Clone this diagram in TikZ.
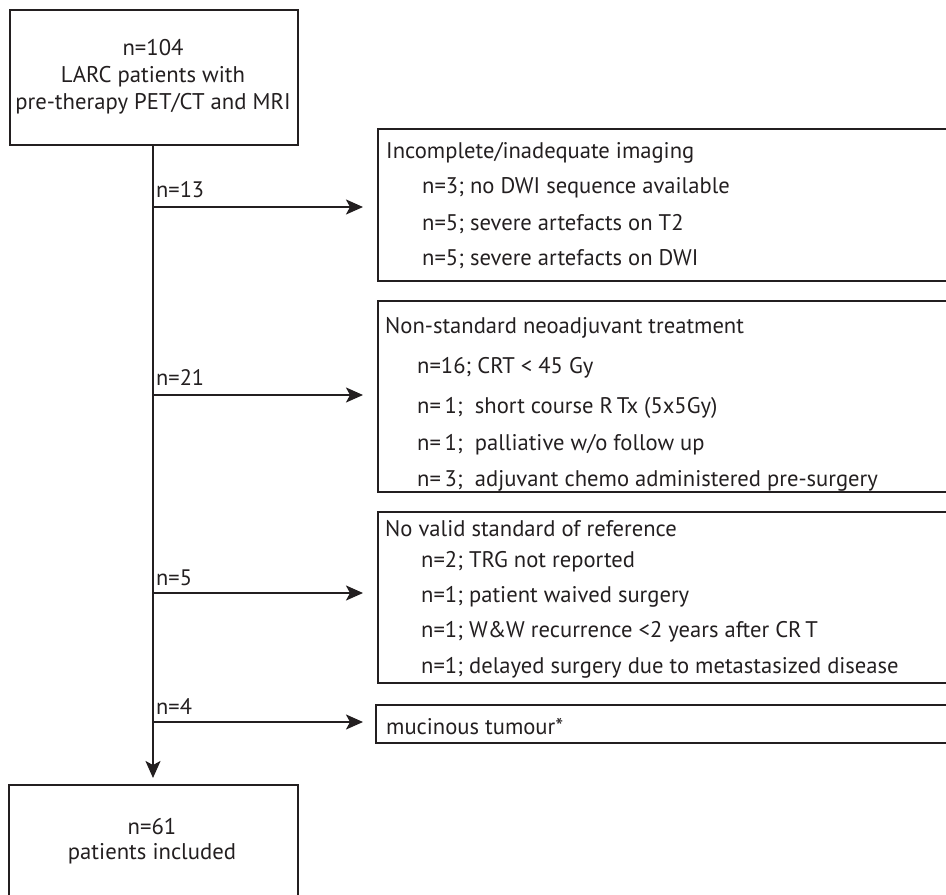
\documentclass[tikz,border=0pt]{standalone}
\usepackage{fontspec}
\setmainfont{PT Sans}
\usetikzlibrary{arrows.meta,calc}
\definecolor{ink}{HTML}{231F20}
\begin{document}
\begin{tikzpicture}[x=1pt,y=-1pt,
  box/.style={draw=ink, line width=2pt, inner sep=0pt, anchor=north west},
  txt/.style={anchor=base west, inner sep=0pt, text=ink, font=\fontsize{22.6}{26}\selectfont},
  lbl/.style={anchor=base west, inner sep=0pt, text=ink, font=\fontsize{22.4}{26}\selectfont},
  ctr/.style={align=center, text=ink, inner sep=0pt, font=\fontsize{22.7}{27}\selectfont},
  conn/.style={draw=ink, line width=2pt, -{Stealth[length=17pt,width=15pt,inset=4pt]}}]
\useasboundingbox (0,0) rectangle (946,895);
% boxes
\node[box, minimum width=288pt, minimum height=135pt] (top) at (9,9) {};
\node[ctr] (toptext) at (153,76.5) {n=104\\LARC patients with\\pre-therapy PET/CT and MRI};
\node[box, minimum width=289pt, minimum height=115pt] (bot) at (8,784) {};
\node[ctr, font=\fontsize{22.7}{25}\selectfont] (bottext) at (152,841.5) {n=61\\patients included};
\node[box, minimum width=590pt, minimum height=152pt] (b1) at (377,128) {};
\node[box, minimum width=590pt, minimum height=191pt] (b2) at (377,300) {};
\node[box, minimum width=590pt, minimum height=171pt] (b3) at (377,511) {};
\node[box, minimum width=592pt, minimum height=38pt] (b4) at (375,704) {};
% box texts
\node[txt] (t1h) at (386,158) {Incomplete/inadequate imaging};
\node[txt] (t1a) at (422,193) {n=3; no DWI sequence available};
\node[txt] (t1b) at (422,230) {n=5; severe artefacts on T2};
\node[txt] (t1c) at (422,265) {n=5; severe artefacts on DWI};
\node[txt] (t2h) at (385,333) {Non-standard neoadjuvant treatment};
\node[txt] (t2a) at (417,373) {n=16; CRT < 45 Gy};
\node[txt] (t2b) at (417,413) {n=\,1;\ \ short course R\,Tx (5x5Gy)};
\node[txt] (t2c) at (417,450) {n=\,1;\ \ palliative w/o follow up};
\node[txt] (t2d) at (417,486) {n=\,3;\ \ adjuvant chemo administered pre-surgery};
\node[txt] (t3h) at (385,536) {No valid standard of reference};
\node[txt] (t3a) at (421,567) {n=2; TRG not reported};
\node[txt] (t3b) at (421,602) {n=1; patient waived surgery};
\node[txt] (t3c) at (421,637) {n=1; W\&W recurrence <2 years after CR\,T};
\node[txt] (t3d) at (421,673) {n=1; delayed surgery due to metastasized disease};
\node[txt] (t4) at (386,734) {mucinous tumour*};
% branch points
\coordinate (c1) at (153,207);
\coordinate (c2) at (153,395);
\coordinate (c3) at (153,593);
\coordinate (c4) at (153,722);
% labels
\node[lbl] (l1) at (156,197) {n=13};
\node[lbl] (l2) at (156,385) {n=21};
\node[lbl] (l3) at (156,585) {n=5};
\node[lbl] (l4) at (156,714) {n=4};
% connectors
\draw[conn, shorten >=6pt] (top.south -| c1) -- (bot.north -| c1);
\draw[conn, shorten >=14pt] (c1) -- (c1 -| b1.west);
\draw[conn, shorten >=14pt] (c2) -- (c2 -| b2.west);
\draw[conn, shorten >=14pt] (c3) -- (c3 -| b3.west);
\draw[conn, shorten >=12pt] (c4) -- (c4 -| b4.west);
\end{tikzpicture}
\end{document}
